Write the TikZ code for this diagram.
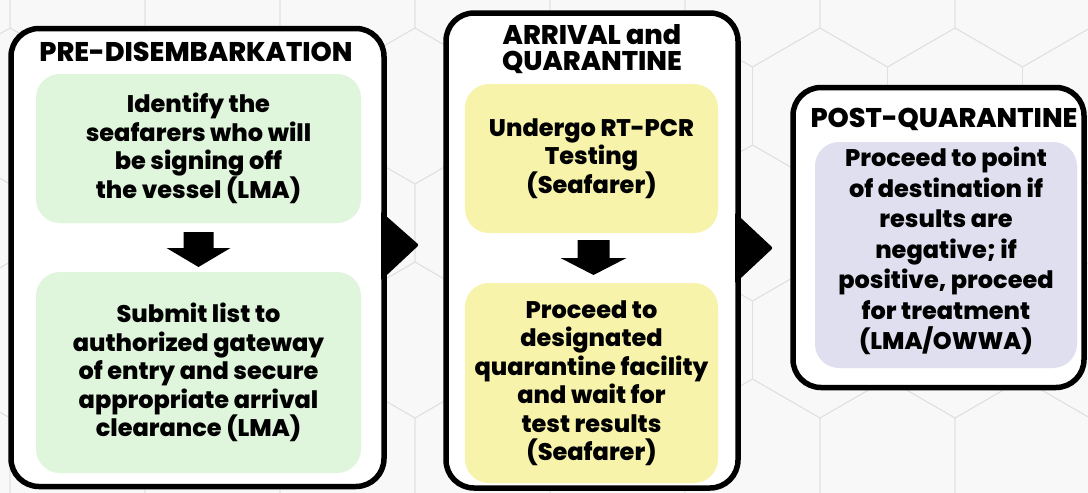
\documentclass[tikz,border=0pt]{standalone}
\usepackage{fontspec}
\setmainfont{Poppins}[BoldFont={* ExtraBold}]
\usetikzlibrary{calc}
\definecolor{bgcol}{HTML}{F8F8F8}
\definecolor{hexcol}{HTML}{E0E0E0}
\definecolor{greenbox}{HTML}{DFF5DC}
\definecolor{yellowbox}{HTML}{F7F3AA}
\definecolor{purplebox}{HTML}{DFDFEF}
\begin{document}
\begin{tikzpicture}[x=1pt,y=-1pt,
  panel/.style={draw=black, line width=5.5pt, rounded corners=28pt, fill=white, inner sep=0pt, outer sep=0pt},
  stepbox/.style={rounded corners=24pt, inner sep=0pt, outer sep=0pt, align=center,
    font=\bfseries\fontsize{24}{28.5}\selectfont, text=black},
  titletext/.style={align=center, font=\bfseries\fontsize{27}{25.5}\selectfont, text=black, inner sep=0pt},
  hexline/.style={draw=hexcol, line width=0.8pt},
  blockfill/.style={fill=black}
]
\fill[bgcol] (0,0) rectangle (1088,493);
\useasboundingbox (0,0) rectangle (1088,493);
% faint hexagon background
\begin{scope}
\clip (0,0) rectangle (1088,493);
\foreach \j in {-1,...,3} {
  \foreach \i in {-4,...,5} {
    \pgfmathsetmacro\cx{415+135*\i+67.5*mod(abs(\j),2)}
    \pgfmathsetmacro\cy{340-117*\j}
    \draw[hexline] (\cx,\cy-78) -- ++(67.5,39) -- ++(0,78) -- ++(-67.5,39) -- ++(-67.5,-39) -- ++(0,-78) -- cycle;
  }
}
\end{scope}

% panels
\node[panel, minimum width=373pt, minimum height=458pt] (p1) at (197.5,257.5) {};
\node[panel, minimum width=292pt, minimum height=475pt] (p2) at (592,250.5) {};
\node[panel, minimum width=291pt, minimum height=300pt] (p3) at (938.5,237.5) {};

% connecting triangles
\fill[blockfill, rounded corners=2pt] ($(p1.east)+(-3,-46)$) -- ($(p1.east)+(35,-12.5)$) -- ($(p1.east)+(-3,23)$) -- cycle;
\fill[blockfill, rounded corners=2pt] ($(p2.east)+(-3,-38)$) -- ($(p2.east)+(35,-2.5)$) -- ($(p2.east)+(-3,33)$) -- cycle;

% titles
\node[titletext] (t1) at (196,52) {PRE-DISEMBARKATION};
\node[titletext] (t2) at (592,49) {ARRIVAL and\\QUARANTINE};
\node[titletext] (t3) at (944,119) {POST-QUARANTINE};

% step boxes
\node[stepbox, fill=greenbox, minimum width=325pt, minimum height=149pt] (g1) at (198.5,148.5)
  {Identify the\\seafarers who will\\be signing off\\the vessel (LMA)};
\node[stepbox, fill=greenbox, minimum width=325pt, minimum height=201pt] (g2) at (198.5,372.5)
  {Submit list to\\authorized gateway\\of entry and secure\\appropriate arrival\\clearance (LMA)};
\node[stepbox, fill=yellowbox, minimum width=253pt, minimum height=149pt] (y1) at (591.5,158.5)
  {Undergo RT-PCR\\Testing\\(Seafarer)};
\node[stepbox, fill=yellowbox, minimum width=253pt, minimum height=200pt] (y2) at (591.5,383)
  {Proceed to\\designated\\quarantine facility\\and wait for\\test results\\(Seafarer)};
\node[stepbox, fill=purplebox, minimum width=262pt, minimum height=226pt] (v1) at (946,255) {};
\node[stepbox, font=\bfseries\fontsize{24}{30.5}\selectfont] (v1text) at ($(v1.center)+(0,-4)$)
  {Proceed to point\\of destination if\\results are\\negative; if\\positive, proceed\\for treatment\\(LMA/OWWA)};

% down block arrows
\coordinate (a1s) at ($(g1.south)+(0,9)$);
\coordinate (a1e) at ($(g2.north)+(0,-5)$);
\fill[blockfill] ($(a1s)+(-15,0)$) -- ($(a1s)+(15,0)$) -- ($(a1e)+(15,-19)$) -- ($(a1e)+(32,-19)$) -- (a1e)
  -- ($(a1e)+(-32,-19)$) -- ($(a1e)+(-15,-19)$) -- cycle;
\coordinate (a2s) at ($(y1.south)+(2,7)$);
\coordinate (a2e) at ($(y2.north)+(2,-8)$);
\fill[blockfill] ($(a2s)+(-16,0)$) -- ($(a2s)+(16,0)$) -- ($(a2e)+(16,-17)$) -- ($(a2e)+(33,-17)$) -- (a2e)
  -- ($(a2e)+(-33,-17)$) -- ($(a2e)+(-16,-17)$) -- cycle;
\end{tikzpicture}
\end{document}
